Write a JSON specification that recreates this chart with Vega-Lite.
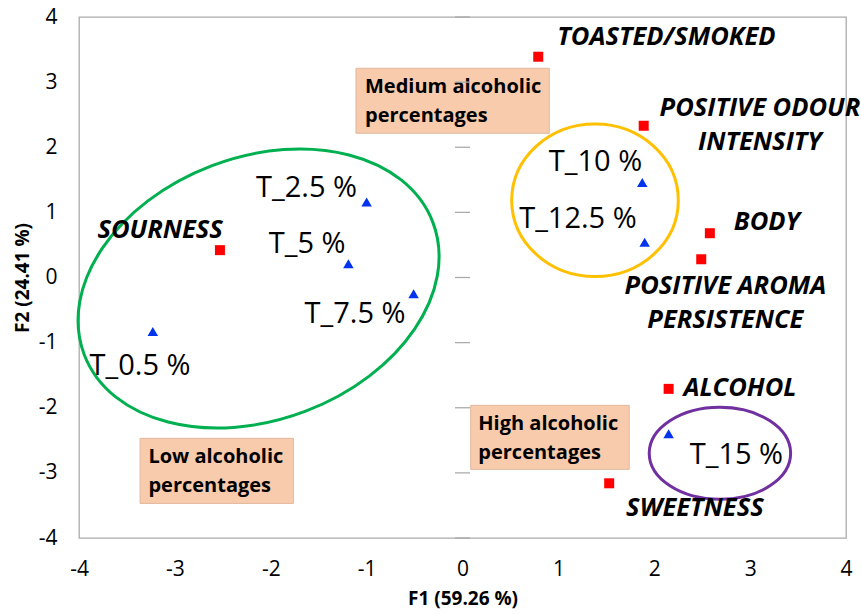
{
  "$schema": "https://vega.github.io/schema/vega-lite/v6.json",
  "autosize": "none",
  "width": 767,
  "height": 521,
  "padding": {"left": 79, "top": 17, "right": 15, "bottom": 77},
  "background": "white",
  "config": {
    "font": "Open Sans",
    "view": {"stroke": "#ABABAB", "strokeWidth": 1.3},
    "axis": {
      "domain": false, "ticks": false, "grid": false,
      "labelFont": "Open Sans", "labelFontSize": 21, "labelColor": "#000000",
      "labelExpr": "'' + datum.value",
      "titleFont": "Open Sans", "titleFontSize": 19, "titleFontWeight": "bold", "titleColor": "#000000"
    }
  },
  "datasets": {
    "points": [
      {"name": "TOASTED/SMOKED", "kind": "attribute", "f1": 0.79, "f2": 3.39},
      {"name": "POSITIVE ODOUR INTENSITY", "kind": "attribute", "f1": 1.89, "f2": 2.33},
      {"name": "BODY", "kind": "attribute", "f1": 2.58, "f2": 0.68},
      {"name": "POSITIVE AROMA PERSISTENCE", "kind": "attribute", "f1": 2.49, "f2": 0.28},
      {"name": "ALCOHOL", "kind": "attribute", "f1": 2.15, "f2": -1.71},
      {"name": "SWEETNESS", "kind": "attribute", "f1": 1.53, "f2": -3.16},
      {"name": "SOURNESS", "kind": "attribute", "f1": -2.53, "f2": 0.42},
      {"name": "T_10 %", "kind": "treatment", "f1": 1.875, "f2": 1.46},
      {"name": "T_12.5 %", "kind": "treatment", "f1": 1.9, "f2": 0.54},
      {"name": "T_15 %", "kind": "treatment", "f1": 2.15, "f2": -2.4},
      {"name": "T_2.5 %", "kind": "treatment", "f1": -1.0, "f2": 1.16},
      {"name": "T_5 %", "kind": "treatment", "f1": -1.19, "f2": 0.21},
      {"name": "T_7.5 %", "kind": "treatment", "f1": -0.51, "f2": -0.25},
      {"name": "T_0.5 %", "kind": "treatment", "f1": -3.23, "f2": -0.83}
    ],
    "attrLabels": [
      {"text": "TOASTED/SMOKED", "lx": 2.127, "ly": 3.69},
      {"text": "POSITIVE ODOUR\nINTENSITY", "lx": 3.102, "ly": 2.6},
      {"text": "BODY", "lx": 3.175, "ly": 0.853},
      {"text": "POSITIVE AROMA\nPERSISTENCE", "lx": 2.742, "ly": -0.13},
      {"text": "ALCOHOL", "lx": 2.894, "ly": -1.697},
      {"text": "SWEETNESS", "lx": 2.424, "ly": -3.541},
      {"text": "SOURNESS", "lx": -3.154, "ly": 0.73}
    ],
    "treatLabels": [
      {"text": "T_10 %", "lx": 1.387, "ly": 1.78},
      {"text": "T_12.5 %", "lx": 1.204, "ly": 0.9},
      {"text": "T_15 %", "lx": 2.857, "ly": -2.73},
      {"text": "T_2.5 %", "lx": -1.627, "ly": 1.37},
      {"text": "T_5 %", "lx": -1.621, "ly": 0.51},
      {"text": "T_7.5 %", "lx": -1.121, "ly": -0.565},
      {"text": "T_0.5 %", "lx": -3.363, "ly": -1.36}
    ],
    "boxes": [
      {"text": "Medium alcoholic\npercentages", "x1": -1.111, "x2": 0.905, "y1": 3.213, "y2": 2.215, "tx": -1.017, "ty": 2.93},
      {"text": "Low alcoholic\npercentages", "x1": -3.363, "x2": -1.764, "y1": -2.47, "y2": -3.469, "tx": -3.276, "ty": -2.76},
      {"text": "High alcoholic\npercentages", "x1": 0.0855, "x2": 1.739, "y1": -1.963, "y2": -2.946, "tx": 0.165, "ty": -2.25}
    ],
    "groups": [
      {"group": "low", "cx": -2.127, "cy": -0.169},
      {"group": "medium", "cx": 1.382, "cy": 1.186},
      {"group": "high", "cx": 2.685, "cy": -2.7}
    ],
    "ticks": [
      {"t": -4}, {"t": -3}, {"t": -2}, {"t": -1}, {"t": 0}, {"t": 1}, {"t": 2}, {"t": 3}, {"t": 4}
    ]
  },
  "layer": [
    {
      "data": {"name": "boxes"},
      "mark": {"type": "rect", "fill": "#F8CBAD", "stroke": "#E2B89E", "strokeWidth": 1},
      "encoding": {
        "x": {"field": "x1", "type": "quantitative", "scale": {"domain": [-4, 4], "nice": false, "zero": false},
              "axis": {"values": [-4, -3, -2, -1, 0, 1, 2, 3, 4], "title": "F1 (59.26 %)", "labelPadding": 20, "titlePadding": 10, "labelFlush": false}},
        "x2": {"field": "x2"},
        "y": {"field": "y1", "type": "quantitative", "scale": {"domain": [-4, 4], "nice": false, "zero": false},
              "axis": {"values": [-4, -3, -2, -1, 0, 1, 2, 3, 4], "title": "F2 (24.41 %)", "labelPadding": 22, "titlePadding": 6, "labelFlush": false}},
        "y2": {"field": "y2"}
      }
    },
    {
      "data": {"name": "boxes"},
      "mark": {"type": "text", "align": "left", "baseline": "middle", "fontWeight": "bold", "fontSize": 20, "lineBreak": "\n", "lineHeight": 29, "color": "#000000"},
      "encoding": {
        "x": {"field": "tx", "type": "quantitative"},
        "y": {"field": "ty", "type": "quantitative"},
        "text": {"field": "text"}
      }
    },
    {
      "mark": {"type": "rule", "color": "#ABABAB", "strokeWidth": 1.3},
      "encoding": {"x": {"datum": 0, "type": "quantitative"}}
    },
    {
      "mark": {"type": "rule", "color": "#ABABAB", "strokeWidth": 1.3},
      "encoding": {"y": {"datum": 0, "type": "quantitative"}}
    },
    {
      "data": {"name": "ticks"},
      "mark": {"type": "tick", "orient": "horizontal", "color": "#ABABAB", "size": 15, "thickness": 1.3, "opacity": 1},
      "encoding": {
        "x": {"datum": 0, "type": "quantitative"},
        "y": {"field": "t", "type": "quantitative"}
      }
    },
    {
      "data": {"name": "groups"},
      "transform": [{"filter": "datum.group === 'low'"}],
      "mark": {"type": "point", "filled": false, "size": 4, "strokeWidth": 3, "opacity": 1, "color": "#00B050",
               "shape": "M-174.4,65.9A186.4,131.4,-20.7,1,0,174.4,-65.9A186.4,131.4,-20.7,1,0,-174.4,65.9Z"},
      "encoding": {
        "x": {"field": "cx", "type": "quantitative"},
        "y": {"field": "cy", "type": "quantitative"}
      }
    },
    {
      "data": {"name": "groups"},
      "transform": [{"filter": "datum.group === 'medium'"}],
      "mark": {"type": "point", "filled": false, "size": 4, "strokeWidth": 3, "opacity": 1, "color": "#FFC000",
               "shape": "M-83.3,0A83.3,76.3,0,1,0,83.3,0A83.3,76.3,0,1,0,-83.3,0Z"},
      "encoding": {
        "x": {"field": "cx", "type": "quantitative"},
        "y": {"field": "cy", "type": "quantitative"}
      }
    },
    {
      "data": {"name": "groups"},
      "transform": [{"filter": "datum.group === 'high'"}],
      "mark": {"type": "point", "filled": false, "size": 4, "strokeWidth": 3, "opacity": 1, "color": "#7030A0",
               "shape": "M-70.7,0A70.7,46,0,1,0,70.7,0A70.7,46,0,1,0,-70.7,0Z"},
      "encoding": {
        "x": {"field": "cx", "type": "quantitative"},
        "y": {"field": "cy", "type": "quantitative"}
      }
    },
    {
      "data": {"name": "points"},
      "transform": [{"filter": "datum.kind === 'attribute'"}],
      "mark": {"type": "square", "filled": true, "opacity": 1, "color": "#FF0000", "size": 100},
      "encoding": {
        "x": {"field": "f1", "type": "quantitative"},
        "y": {"field": "f2", "type": "quantitative"}
      }
    },
    {
      "data": {"name": "points"},
      "transform": [{"filter": "datum.kind === 'treatment'"}],
      "mark": {"type": "point", "shape": "triangle-up", "filled": true, "opacity": 1, "color": "#0033EE", "size": 110},
      "encoding": {
        "x": {"field": "f1", "type": "quantitative"},
        "y": {"field": "f2", "type": "quantitative"}
      }
    },
    {
      "data": {"name": "attrLabels"},
      "mark": {"type": "text", "align": "center", "baseline": "middle", "fontWeight": "bold", "fontStyle": "italic", "fontSize": 25.5, "lineBreak": "\n", "lineHeight": 34, "color": "#000000"},
      "encoding": {
        "x": {"field": "lx", "type": "quantitative"},
        "y": {"field": "ly", "type": "quantitative"},
        "text": {"field": "text"}
      }
    },
    {
      "data": {"name": "treatLabels"},
      "mark": {"type": "text", "align": "center", "baseline": "middle", "fontSize": 29, "color": "#000000"},
      "encoding": {
        "x": {"field": "lx", "type": "quantitative"},
        "y": {"field": "ly", "type": "quantitative"},
        "text": {"field": "text"}
      }
    }
  ]
}
